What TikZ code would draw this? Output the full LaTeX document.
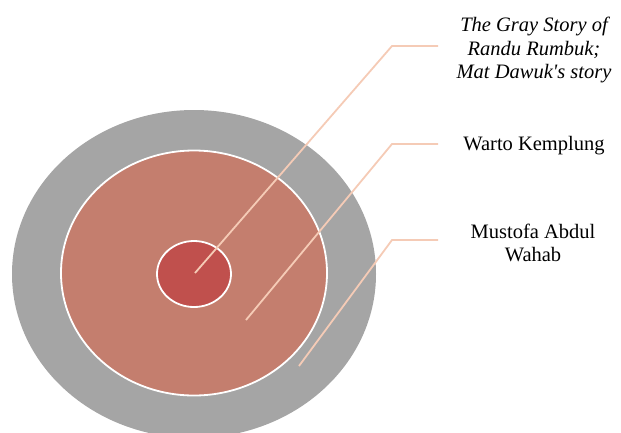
\documentclass[tikz,border=0pt]{standalone}
\usepackage{fontspec}
\setmainfont{Liberation Serif}
\usepackage{tikz}
\usetikzlibrary{shapes.geometric}
\definecolor{ringgray}{HTML}{A5A5A5}
\definecolor{ringrose}{HTML}{C47E6E}
\definecolor{ringred}{HTML}{C0504D}
\definecolor{leadpeach}{HTML}{F5CBB6}

\begin{document}
\begin{tikzpicture}[x=1pt, y=-1pt,
    ring/.style={ellipse, inner sep=0pt, draw=white, line width=1.8pt},
    lead/.style={leadpeach, line width=1.8pt},
    lbl/.style={align=center, font=\fontsize{20.5}{23.5}\selectfont}]
    \useasboundingbox (0,0) rectangle (621,432);
    \node[ring, draw=none, fill=ringgray, minimum width=364pt, minimum height=328pt] (outer) at (194,274) {};
    \node[ring, fill=ringrose, minimum width=266pt, minimum height=245pt] (mid) at (194,273) {};
    \node[ring, fill=ringred, minimum width=74pt, minimum height=66pt] (core) at (194,274) {};
    \node[lbl] (tcore) at (534,50) {\itshape The Gray Story of\\\itshape Randu Rumbuk;\\\itshape Mat Dawuk\textquotesingle s story};
    \node[lbl] (tmid) at (534,146) {Warto Kemplung};
    \node[lbl] (touter) at (533,243) {Mustofa Abdul\\Wahab};
    \coordinate (pcore)  at (195,273);
    \coordinate (pmid)   at (246,320);
    \coordinate (pouter) at (299,366);
    \coordinate (kcore)  at (438,46);
    \coordinate (kmid)   at (438,144);
    \coordinate (kouter) at (438,240);
    \draw[lead] (pcore)  -- (392,46)  -- (kcore);
    \draw[lead] (pmid)   -- (392,144) -- (kmid);
    \draw[lead] (pouter) -- (392,240) -- (kouter);
  \end{tikzpicture}
\end{document}
